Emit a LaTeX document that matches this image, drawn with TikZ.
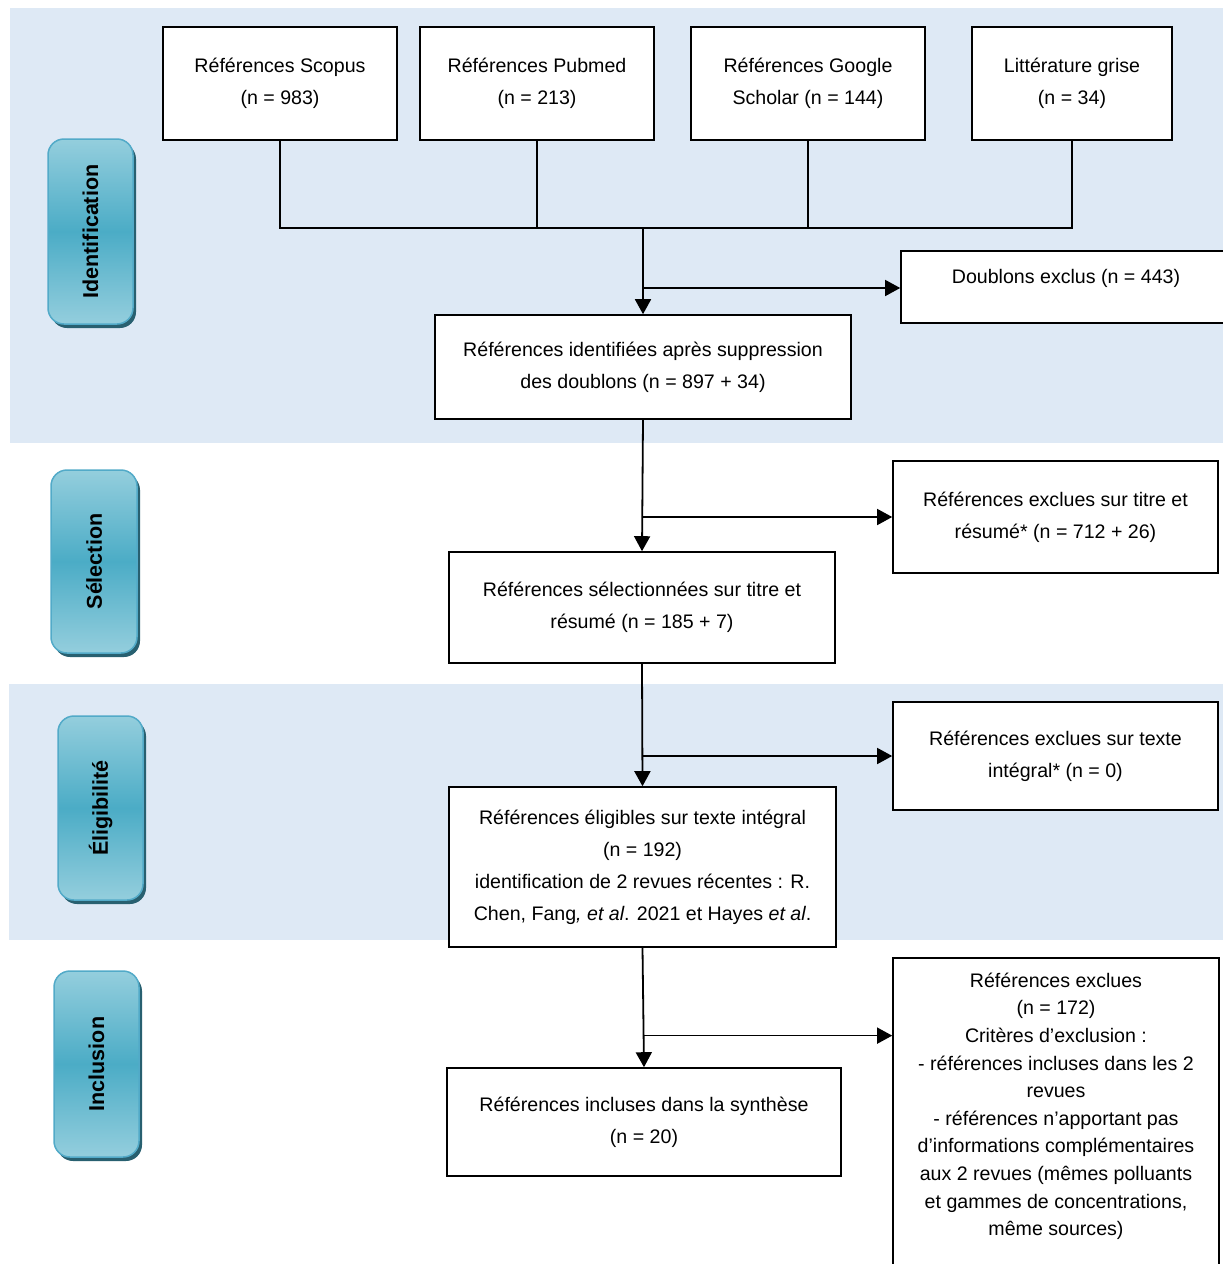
\documentclass[tikz,border=0pt]{standalone}
\usepackage{fontspec}
\setmainfont{Liberation Sans}
\usepackage{tikz}
\usetikzlibrary{shapes,shadows}
\usetikzlibrary{backgrounds}
\usetikzlibrary{calc}
\usetikzlibrary{arrows.meta}

\definecolor{bandblue}{RGB}{222,233,245}
\definecolor{tealpale}{RGB}{148,206,221}
\definecolor{tealmid}{RGB}{75,172,198}
\definecolor{tealedge}{RGB}{82,170,200}
\definecolor{tealshadow}{RGB}{40,96,112}

\begin{document}
\begin{tikzpicture}[x=1pt,y=-1pt]

		\tikzstyle{refbox} = [rectangle, draw, line width=1.6pt, fill=white, align=center, inner sep=0pt, font=\fontsize{19.6}{32}\selectfont]
		\tikzstyle{phase}  = [rectangle, rounded corners=16pt, draw=tealedge, line width=1.5pt, top color=tealpale, bottom color=tealpale, middle color=tealmid, general shadow={fill=tealshadow, shadow xshift=3pt, shadow yshift=-4pt}, inner sep=0pt, font=\fontsize{21.5}{24}\selectfont\bfseries]
		\tikzstyle{flow}   = [line width=1.8pt, -{Triangle[length=15pt,width=16pt]}]
		\tikzstyle{side}   = [line width=1.4pt, -{Triangle[length=15pt,width=16pt]}]
		\tikzstyle{merge}  = [line width=1.1pt]

		\useasboundingbox (0,0) rectangle (1223,1264);
		\fill [bandblue] (10,8) rectangle (1223,443);
		\fill [bandblue] (9,684) rectangle (1223,940);

		% phases
		\node [phase, minimum width=85pt, minimum height=185pt](identlab) at (90.5,231.5) {\rotatebox{90}{Identification}};
		\node [phase, minimum width=86pt, minimum height=183pt](sellab) at (94,561.5) {\rotatebox{90}{Sélection}};
		\node [phase, minimum width=85pt, minimum height=184pt](eliglab) at (100.5,808) {\rotatebox{90}{Éligibilité}};
		\node [phase, minimum width=85pt, minimum height=186pt](incllab) at (96.5,1064) {\rotatebox{90}{Inclusion}};

		% sources
		\node [refbox, minimum width=234pt, minimum height=113pt](scopus) at (280,83.5) {Références Scopus\\(n = 983)};
		\node [refbox, minimum width=234pt, minimum height=113pt](pubmed) at (537,83.5) {Références Pubmed\\(n = 213)};
		\node [refbox, minimum width=234pt, minimum height=113pt](google) at (808,83.5) {Références Google\\Scholar (n = 144)};
		\node [refbox, minimum width=200pt, minimum height=113pt](grise) at (1072,83.5) {Littérature grise\\(n = 34)};

		\node [refbox, minimum width=330pt, text height=32pt, text depth=40pt, anchor=base](doublons) at (1066,283) {Doublons exclus (n = 443)};
		\node [refbox, minimum width=416pt, minimum height=104pt](ident) at (643,367) {Références identifiées après suppression\\des doublons (n = 897 + 34)};
		\node [refbox, minimum width=325pt, minimum height=112pt](excla) at (1055.5,517) {Références exclues sur titre et\\résumé* (n = 712 + 26)};
		\node [refbox, minimum width=386pt, minimum height=111pt](sel) at (642,607.5) {Références sélectionnées sur titre et\\résumé (n = 185 + 7)};
		\node [refbox, minimum width=325pt, minimum height=108pt](exclb) at (1055.5,756) {Références exclues sur texte\\intégral* (n = 0)};
		\node [refbox, minimum width=387pt, minimum height=160pt](elig) at (642.5,867) {Références éligibles sur texte intégral\\(n = 192)\\identification de 2 revues récentes : R.\\Chen, Fang\textit{, et al}. 2021 et Hayes \textit{et al}.};
		\node [refbox, minimum width=326pt, inner ysep=15pt, anchor=north, font=\fontsize{19.6}{27.6}\selectfont](exclc) at (1056,957) {Références exclues\\(n = 172)\\Critères d’exclusion :\\- références incluses dans les 2\\revues\\- références n’apportant pas\\d’informations complémentaires\\aux 2 revues (mêmes polluants\\et gammes de concentrations,\\même sources)\\~\\~};
		\node [refbox, minimum width=394pt, minimum height=108pt](incl) at (644,1122) {Références incluses dans la synthèse\\(n = 20)};

		% connectors
		\coordinate (join) at (643,228);
		\draw [merge] (scopus.south) |- (grise.south |- join) -- (grise.south);
		\draw [merge] (pubmed.south) -- (pubmed.south |- join);
		\draw [merge] (google.south) -- (google.south |- join);
		\draw [flow] (join) -- (ident.north);
		\draw [side] (ident.north |- 0,288) -- (doublons.west |- 0,288);
		\draw [flow] (ident.south) -- (sel.north);
		\draw [side] (sel.north |- excla.west) -- (excla.west);
		\draw [flow] (sel.south) -- (elig.north);
		\draw [side] (elig.north |- exclb.west) -- (exclb.west);
		\draw [flow] (elig.south) -- (incl.north);
		\coordinate (branch) at ($(elig.south)!0.7355!(incl.north)$);
		\draw [side] (branch) -- (branch -| exclc.west);

	\end{tikzpicture}
\end{document}
